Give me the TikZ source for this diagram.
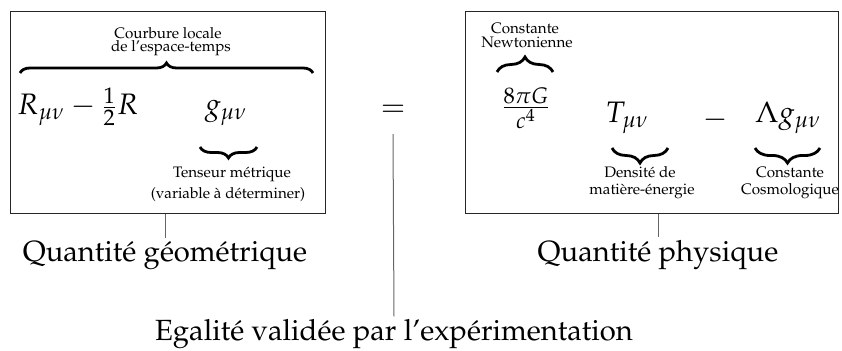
\documentclass[tikz,border=0pt]{standalone}
\usepackage[T1]{fontenc}
\usepackage{mathpazo}
\usetikzlibrary{decorations.pathreplacing}
\tikzset{
  box/.style={draw=black!85, line width=0.5pt, inner sep=0pt},
  conn/.style={draw=black!60, line width=0.5pt},
  small/.style={font=\fontsize{7.6}{8}\selectfont, inner sep=0pt, anchor=base},
  big/.style={font=\fontsize{14.6}{17}\selectfont, inner sep=1.5pt, anchor=base},
  mth/.style={font=\fontsize{14.8}{17}\selectfont, inner sep=0pt},
  bracetop/.style={decorate, decoration={brace, amplitude=#1}, line width=1.4pt},
  bracebot/.style={decorate, decoration={brace, mirror, amplitude=#1}, line width=1.4pt}
}
\begin{document}
\begin{tikzpicture}[x=0.5pt,y=-0.5pt]
\useasboundingbox (0,0) rectangle (842,351);
% boxes
\node[box, minimum width=157.5pt, minimum height=101pt] (lbox) at (167.5,113) {};
\node[box, minimum width=186.5pt, minimum height=101pt] (rbox) at (651.5,113) {};
% left box content
\node[small] (c1) at (168,39) {Courbure locale};
\node[small] (c2) at (171,52) {de l'espace-temps};
\coordinate (btl) at (20,73);
\coordinate (btr) at (313,73);
\draw[bracetop=5pt] (btl) -- (btr);
\node[mth, anchor=base west] (lm) at (17,115) {$R_{\mu\nu} - \frac{1}{2}R$};
\node[mth, anchor=base] (g) at (226,115) {$g_{\mu\nu}$};
\coordinate (bgl) at (200,147);
\coordinate (bgr) at (257,147);
\draw[bracebot=5.5pt] (bgl) -- (bgr);
\node[small] (t1) at (232,178) {Tenseur m\'etrique};
\node[small] (t2) at (228,199) {(variable \`a d\'eterminer)};
% equal
\node[mth] (eq) at (393,111) {$=$};
% right box content
\node[small] (n1) at (525,34) {Constante};
\node[small] (n2) at (527,48) {Newtonienne};
\coordinate (bnl) at (497,72);
\coordinate (bnr) at (553,72);
\draw[bracetop=7.5pt] (bnl) -- (bnr);
\node[mth] (fr) at (526,108) {$\frac{8\pi G}{c^4}$};
\node[mth, anchor=base] (T) at (627,123) {$T_{\mu\nu}$};
\node[mth] (mi) at (715,120) {$-$};
\node[mth, anchor=base] (L) at (788,123) {$\Lambda g_{\mu\nu}$};
\coordinate (btTl) at (612,148);
\coordinate (btTr) at (668,148);
\draw[bracebot=7.5pt] (btTl) -- (btTr);
\coordinate (bLl) at (755,148);
\coordinate (bLr) at (820,148);
\draw[bracebot=7.5pt] (bLl) -- (bLr);
\node[small] (d1) at (640,178) {Densit\'e de};
\node[small] (d2) at (642,195) {mati\`ere-\'energie};
\node[small] (k1) at (790,178) {Constante};
\node[small] (k2) at (790,195) {Cosmologique};
% labels
\node[big] (lq) at (165,262) {Quantit\'e g\'eom\'etrique};
\node[big] (rq) at (658,262) {Quantit\'e physique};
\node[big] (eg) at (394,341) {Egalit\'e valid\'ee par l'exp\'erimentation};
% connectors
\draw[conn] (lbox.south -| lq.north) -- (lq.north);
\draw[conn] (rbox.south -| rq.north) -- (rq.north);
\draw[conn] ([yshift=-8.5pt]eq.south) -- (eg.north);
\end{tikzpicture}
\end{document}
